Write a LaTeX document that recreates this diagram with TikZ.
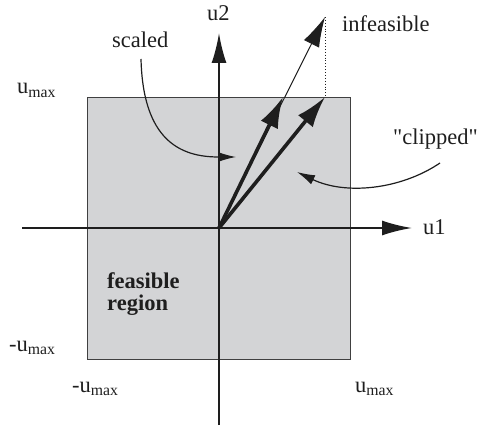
\documentclass[tikz,border=0pt]{standalone}
\usepackage{fontspec}
\setmainfont{Liberation Serif}
\newfontfamily\quotefont{Liberation Serif}[Ligatures=TeXOff]
\usetikzlibrary{arrows.meta}
\definecolor{boxgray}{RGB}{211,212,214}
\definecolor{ink}{RGB}{30,30,30}
\tikzset{
  lbl/.style={anchor=base west, inner sep=0pt, text=ink, font=\fontsize{22.5}{24}\selectfont},
  bigtip/.style={-{Latex[length=30pt,width=15pt]}},
  axisline/.style={bigtip, line width=2pt, draw=ink},
  vecthick/.style={-{Latex[length=31pt,width=19pt]}, line width=3.6pt, draw=ink},
  vecthin/.style={-{Latex[length=30pt,width=17pt]}, line width=1pt, draw=ink},
  pointer/.style={-{Latex[length=18pt,width=10pt]}, line width=1.2pt, draw=ink},
}
\newcommand{\umax}{u\textsubscript{max}}
\begin{document}
\begin{tikzpicture}[x=1pt,y=-1pt]
\useasboundingbox (0,0) rectangle (478,427);
% feasible box
\node[draw=ink!85, line width=1.1pt, fill=boxgray, minimum width=263pt, minimum height=262pt, inner sep=0pt, anchor=north west] (box) at (87,97) {};
% key points
\coordinate (O) at (219,228);
\coordinate (xl) at (22,228);
\coordinate (xr) at (412,228);
\coordinate (yb) at (219,425);
\coordinate (yt) at (219,33);
\coordinate (inf) at (325,17);
\coordinate (sc) at (283,97);
\coordinate (cl) at (325,97);
% axes
\draw[axisline] (xl) -- (xr);
\draw[axisline] (yb) -- (yt);
% vectors
\draw[dotted, line width=0.9pt, draw=ink] (inf) -- (cl);
\draw[vecthin] (O) -- (inf);
\draw[vecthick] (O) -- (sc);
\draw[vecthick] (O) -- (cl);
% labels
\node[lbl] (lu2) at (207,21) {u2};
\node[lbl] (linf) at (342,32) {infeasible};
\node[lbl] (lsc) at (112,48) {scaled};
\node[lbl, font=\fontsize{22.5}{24}\quotefont] (lcl) at (393,145) {"clipped"};
\node[lbl] (lu1) at (423,234) {u1};
\node[lbl] (ltop) at (17,94) {\umax};
\node[lbl] (lleft) at (9,351) {-\umax};
\node[lbl] (lbl1) at (72,392) {-\umax};
\node[lbl] (lbr) at (355,392) {\umax};
\node[lbl, font=\fontsize{22.5}{24}\selectfont\bfseries] (lfr1) at (107,288) {feasible};
\node[lbl, font=\fontsize{22.5}{24}\selectfont\bfseries] (lfr2) at (107,310) {region};
% pointer curves
\coordinate (scs) at (141,59);
\coordinate (sce) at (236,157);
\coordinate (cls) at (440,163);
\coordinate (cle) at (297,172);
\draw[pointer] (scs) .. controls (143,140) and (180,157) .. (sce);
\draw[pointer] (cls) .. controls (400,190) and (345,195) .. (cle);
\end{tikzpicture}
\end{document}
